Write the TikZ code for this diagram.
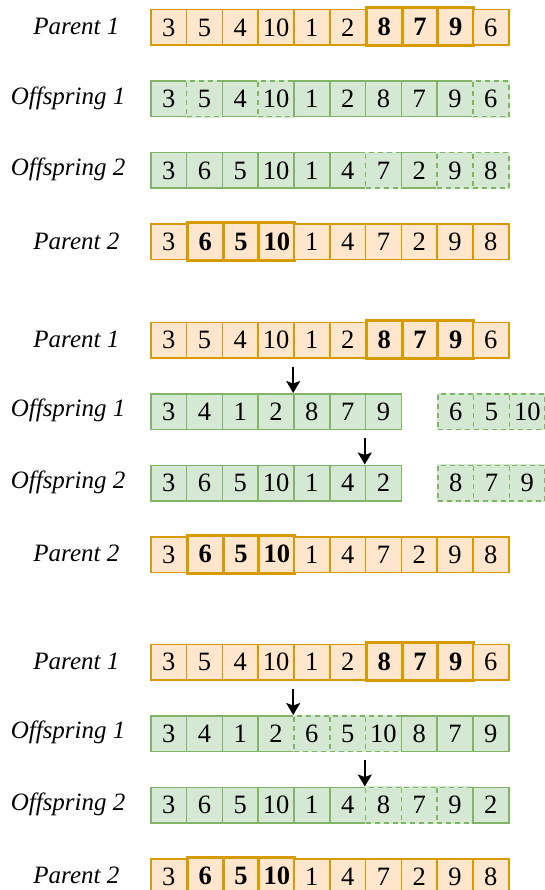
\documentclass[tikz,border=0pt]{standalone}
\usepackage{fontspec}
\setmainfont{Liberation Serif}
\usetikzlibrary{arrows.meta,calc}
\definecolor{ofill}{HTML}{FFE6CC}
\definecolor{ostroke}{HTML}{D79B00}
\definecolor{gfill}{HTML}{D5E8D4}
\definecolor{gstroke}{HTML}{82B366}
\tikzset{
 cell/.style={minimum width=35.8pt, minimum height=35.5pt, inner sep=0pt, anchor=north west, font=\fontsize{26.5}{26.5}\selectfont, line width=1.5pt},
 par/.style={cell, fill=ofill, draw=ostroke},
 parb/.style={par, line width=3pt, font=\fontsize{26.5}{26.5}\selectfont\bfseries, minimum height=38pt, yshift=2.5pt},
 off/.style={cell, fill=gfill, draw=gstroke},
 offd/.style={off, dash pattern=on 5pt off 4pt, preaction={draw=gfill, solid, line width=1.6pt}},
 lab/.style={font=\fontsize{25}{25}\selectfont\itshape, inner sep=0pt},
 arr/.style={-{Stealth[length=12pt,width=14pt,inset=2.5pt]}, line width=1.7pt, black},
}
\newcommand\drawrow[4]{% prefix, x0, top, list
 \foreach [count=\i from 0] \s/\t in {#4} {
   \node[\s] (#1c\i) at ({#2+\i*35.8}, #3) {\t};
 }
}
\begin{document}
\begin{tikzpicture}[x=1pt,y=-1pt]
\useasboundingbox (0,0) rectangle (544,890);
% ---------- section 1
\node[lab] (la1) at (76.4, 26.75) {Parent 1};
\node[lab] (la2) at (68.1, 98.25) {Offspring 1};
\node[lab] (la3) at (68.1, 169.75) {Offspring 2};
\node[lab] (la4) at (76.4, 241.25) {Parent 2};
\drawrow{ap}{150}{9}{par/3,par/5,par/4,par/10,par/1,par/2,parb/8,parb/7,parb/9,par/6}
\drawrow{ao}{150}{80.5}{off/3,offd/5,off/4,offd/10,off/1,off/2,off/8,off/7,off/9,offd/6}
\drawrow{aq}{150}{152}{off/3,off/6,off/5,off/10,off/1,off/4,offd/7,off/2,offd/9,offd/8}
\drawrow{ar}{150}{223.5}{par/3,parb/6,parb/5,parb/10,par/1,par/4,par/7,par/2,par/9,par/8}
% ---------- section 2
\node[lab] (lb1) at (76.4, 339.25) {Parent 1};
\node[lab] (lb2) at (68.1, 410.75) {Offspring 1};
\node[lab] (lb3) at (68.1, 482.25) {Offspring 2};
\node[lab] (lb4) at (76.4, 553.75) {Parent 2};
\drawrow{bp}{150}{321.5}{par/3,par/5,par/4,par/10,par/1,par/2,parb/8,parb/7,parb/9,par/6}
\drawrow{bo}{150}{393}{off/3,off/4,off/1,off/2,off/8,off/7,off/9}
\drawrow{bx}{437}{393}{offd/6,offd/5,offd/10}
\drawrow{bq}{150}{464.5}{off/3,off/6,off/5,off/10,off/1,off/4,off/2}
\drawrow{by}{437}{464.5}{offd/8,offd/7,offd/9}
\drawrow{br}{150}{536}{par/3,parb/6,parb/5,parb/10,par/1,par/4,par/7,par/2,par/9,par/8}
\coordinate (b1) at ($(boc4.north west)+(0,-26.5)$);
\coordinate (b2) at ($(bqc6.north west)+(0,-26.5)$);
\draw[arr] (b1) -- (boc4.north west);
\draw[arr] (b2) -- (bqc6.north west);
% ---------- section 3
\node[lab] (lc1) at (76.4, 661.25) {Parent 1};
\node[lab] (lc2) at (68.1, 732.75) {Offspring 1};
\node[lab] (lc3) at (68.1, 804.25) {Offspring 2};
\node[lab] (lc4) at (76.4, 875.75) {Parent 2};
\drawrow{cp}{150}{643.5}{par/3,par/5,par/4,par/10,par/1,par/2,parb/8,parb/7,parb/9,par/6}
\drawrow{co}{150}{715}{off/3,off/4,off/1,off/2,offd/6,offd/5,offd/10,off/8,off/7,off/9}
\drawrow{cq}{150}{786.5}{off/3,off/6,off/5,off/10,off/1,off/4,offd/8,offd/7,offd/9,off/2}
\drawrow{cr}{150}{858}{par/3,parb/6,parb/5,parb/10,par/1,par/4,par/7,par/2,par/9,par/8}
\coordinate (c1) at ($(coc4.north west)+(0,-26.5)$);
\coordinate (c2) at ($(cqc6.north west)+(0,-26.5)$);
\draw[arr] (c1) -- (coc4.north west);
\draw[arr] (c2) -- (cqc6.north west);
\end{tikzpicture}
\end{document}
